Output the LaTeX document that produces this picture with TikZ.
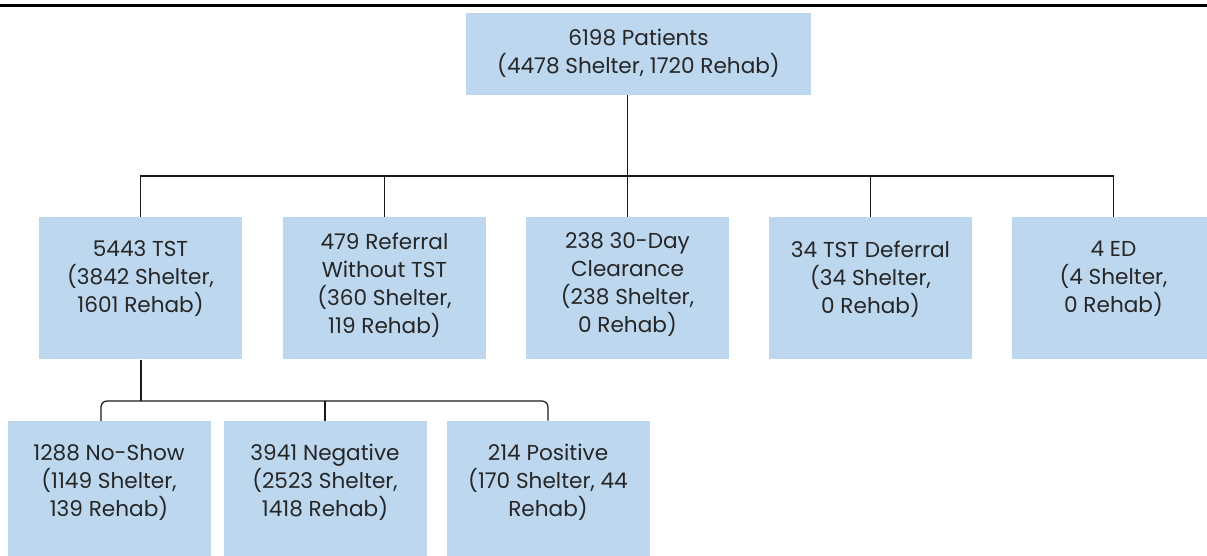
\documentclass[tikz,border=0pt]{standalone}
\usepackage{fontspec}
\setmainfont{Poppins}
\usepackage{xcolor}
\usetikzlibrary{positioning, calc}
\definecolor{boxblue}{HTML}{BDD7EE}

\begin{document}
\begin{tikzpicture}[x=0.5pt, y=-0.5pt,
        box/.style={rectangle, fill=boxblue, align=center, minimum width=101.5pt, minimum height=71pt,
            font=\fontsize{10.8}{14}\selectfont, text=black!85, inner sep=0pt, text depth=11.5pt},
        link/.style={draw=black!90, line width=0.6pt}]
        \useasboundingbox (0,0) rectangle (1207,556);
        \clip (0,0) rectangle (1207,556);
        \draw[line width=1.25pt] (0,5.5) -- (1207,5.5);
        % top level
        \node[box, minimum width=172.5pt, minimum height=41pt, text depth=3pt] (patients) at (638.5,54) {6198 Patients\\(4478 Shelter, 1720 Rehab)};
        % second level
        \node[box] (tst) at (140.5,288.5) {5443 TST\\(3842 Shelter,\\1601 Rehab)};
        \node[box, text depth=5.5pt] (referral) at (384.5,288.5) {479 Referral\\Without TST\\(360 Shelter,\\119 Rehab)};
        \node[box, text depth=5.5pt] (clearance) at (627.5,288.5) {238 30-Day\\Clearance\\(238 Shelter,\\0 Rehab)};
        \node[box] (deferral) at (870.5,288.5) {34 TST Deferral\\(34 Shelter,\\0 Rehab)};
        \node[box] (ed) at (1113.5,288.5) {4 ED\\(4 Shelter,\\0 Rehab)};
        % third level
        \node[box] (noshow) at (109,492) {1288 No-Show\\(1149 Shelter,\\139 Rehab)};
        \node[box] (negative) at (325,492) {3941 Negative\\(2523 Shelter,\\1418 Rehab)};
        \node[box] (positive) at (548,492) {214 Positive\\(170 Shelter, 44\\Rehab)};
        % connectors
        \coordinate (bus) at (627,176);
        \coordinate (subbus) at (141,401);
        \coordinate (noshowleg) at (101,421);
        \draw[link] (clearance.north |- patients.south) -- (clearance.north);
        \draw[link] (tst.north) -- (tst.north |- bus) -- (ed.north |- bus) -- (ed.north);
        \foreach \n in {referral, deferral}
            \draw[link] (\n.north) -- (\n.north |- bus);
        \draw[link] (subbus |- tst.south) -- (subbus);
        \draw[link, rounded corners=3] (noshowleg) |- (subbus) -| (positive.north);
        \draw[link] (negative.north) -- (negative.north |- subbus);
    \end{tikzpicture}
\end{document}
